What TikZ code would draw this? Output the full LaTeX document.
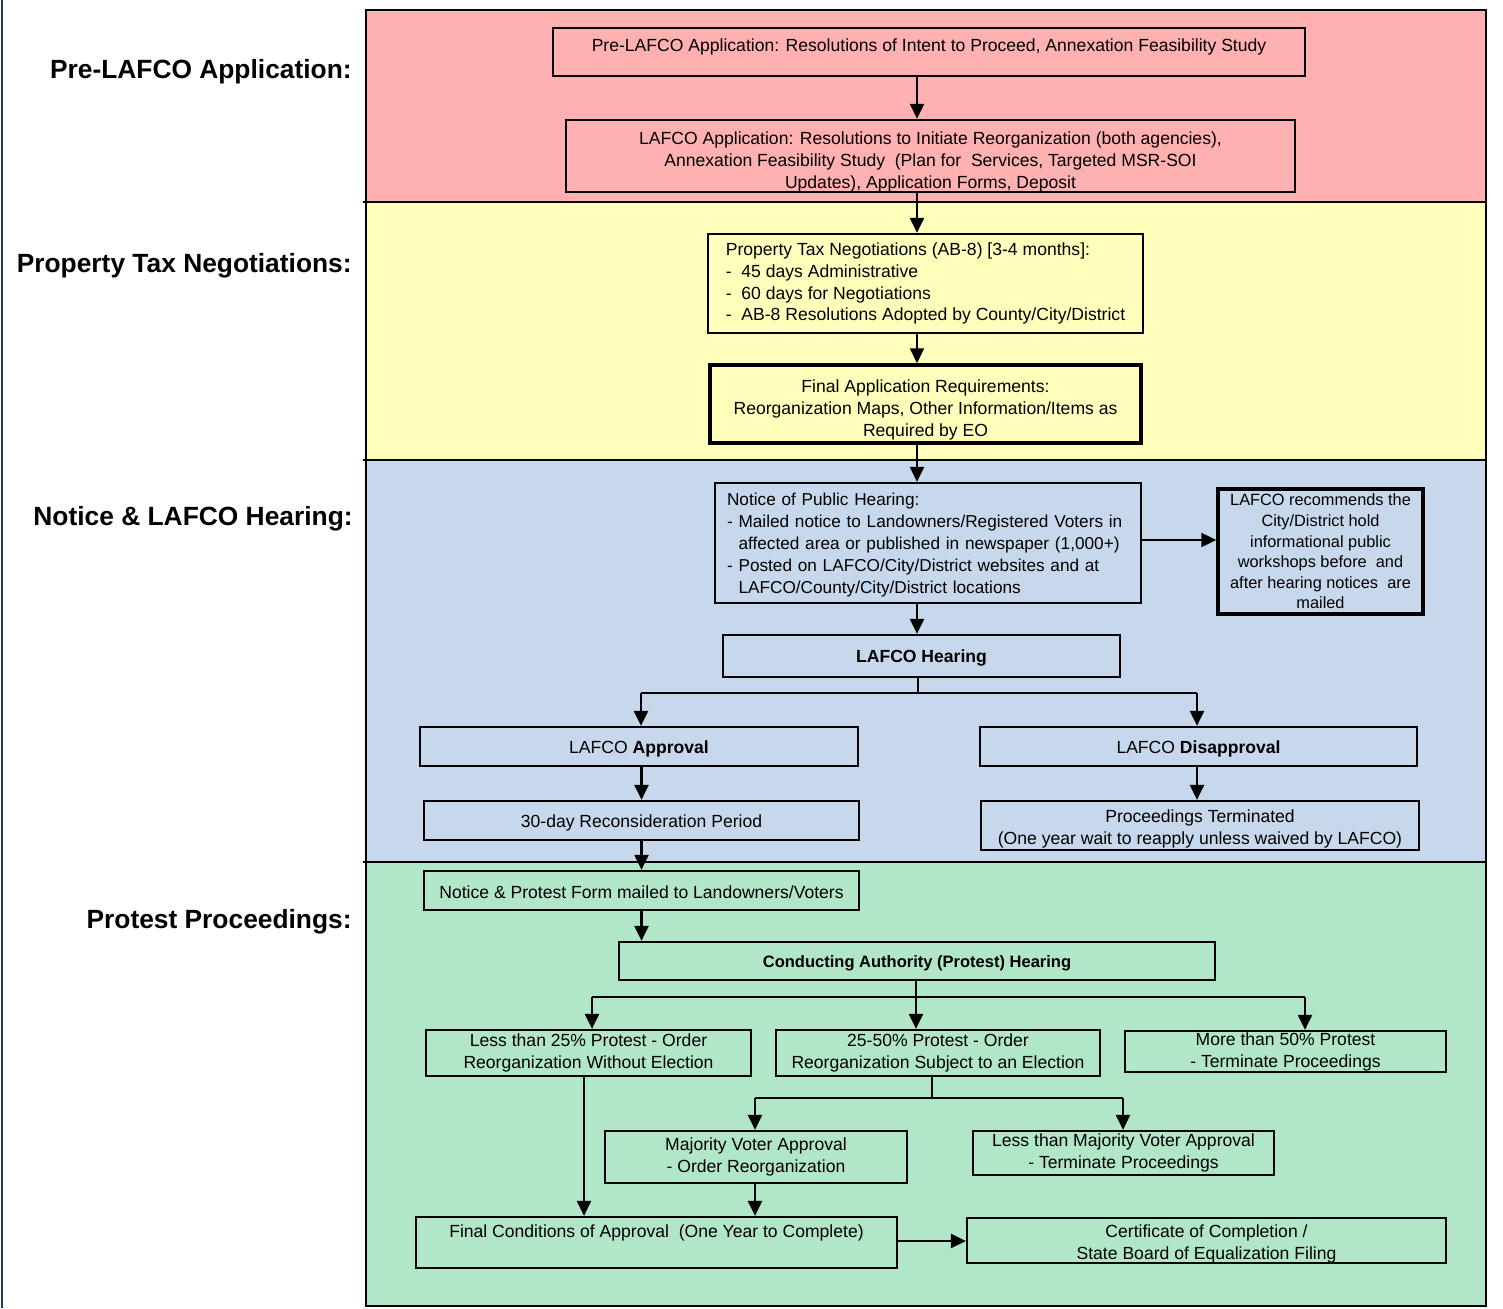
\documentclass[tikz,border=0pt]{standalone}
\usepackage{fontspec}
\setmainfont{Liberation Sans}
\usetikzlibrary{arrows.meta}
\definecolor{pinkband}{RGB}{255,176,176}
\definecolor{yellowband}{RGB}{255,255,187}
\definecolor{blueband}{RGB}{199,216,236}
\definecolor{greenband}{RGB}{177,230,200}
\definecolor{navyline}{RGB}{31,56,100}
\newcommand{\lead}[1][14pt]{\rule{0pt}{#1}}
\begin{document}
\begin{tikzpicture}[
        x=0.02cm, y=-0.02cm,
        every node/.style={font=\fontsize{10}{12.5}\selectfont, inner sep=0pt},
        stepbox/.style={draw, line width=1.3pt, align=center, execute at begin node={\rule{0pt}{9.5pt}}},
        heavybox/.style={stepbox, line width=2pt},
        listbox/.style={stepbox, align=left},
        phase/.style={anchor=east, font=\fontsize{15}{17}\selectfont\bfseries},
        arr/.style={line width=1.3pt, -{Triangle[length=0.3cm,width=0.28cm]}},
        link/.style={line width=1.3pt},
        frame/.style={line width=1.3pt},
    ]
    \useasboundingbox (0,0) rectangle (1503,1308);
    \fill[pinkband] (366,10) rectangle (1486,202);
    \fill[yellowband] (366,202) rectangle (1486,460);
    \fill[blueband] (366,460) rectangle (1486,862);
    \fill[greenband] (366,862) rectangle (1486,1306);
    \draw[frame] (366,10) rectangle (1486,1306);
    \draw[frame] (363,202) -- (1486,202);
    \draw[frame] (363,460) -- (1486,460);
    \draw[frame] (363,862) -- (1486,862);
    \draw[navyline, line width=1.2pt] (2,0) -- (2,1308);

    \node[phase] (phasepre) at (352,72) {Pre-LAFCO Application:};
    \node[phase] (phasetax) at (352,266) {Property Tax Negotiations:};
    \node[phase] (phasehear) at (353,519) {Notice \& LAFCO Hearing:};
    \node[phase] (phaseprot) at (352,922) {Protest Proceedings:};

    \node[stepbox, minimum width=15.04cm, minimum height=0.96cm] (pre) at (929,52)
        {\lead[12pt]Pre-LAFCO Application: Resolutions of Intent to Proceed, Annexation Feasibility Study\\~};
    \node[stepbox, minimum width=14.58cm, minimum height=1.44cm] (lafcoapp) at (930.5,156)
        {\lead LAFCO Application: Resolutions to Initiate Reorganization (both agencies),\\
         Annexation Feasibility Study~~(Plan for~~Services, Targeted MSR-SOI\\
         Updates), Application Forms, Deposit};
    \node[listbox, minimum width=8.7cm, minimum height=1.98cm] (taxneg) at (925.5,283.5)
        {Property Tax Negotiations (AB-8) [3-4 months]:\\
         -~~45 days Administrative\\
         -~~60 days for Negotiations\\
         -~~AB-8 Resolutions Adopted by County/City/District};
    \node[heavybox, minimum width=8.62cm, minimum height=1.56cm] (finalreq) at (925.5,404)
        {\lead Final Application Requirements:\\
         Reorganization Maps, Other Information/Items as\\
         Required by EO};
    \node[listbox, text width=8.04cm, minimum width=8.52cm, minimum height=2.4cm, font=\fontsize{9.8}{12.5}\selectfont] (notice) at (928,543)
        {Notice of Public Hearing:\\
         - Mailed notice to Landowners/Registered Voters in\\
         \phantom{- }affected area or published in newspaper (1,000+)\\
         - Posted on LAFCO/City/District websites and at\\
         \phantom{- }LAFCO/County/City/District locations};
    \node[heavybox, minimum width=4.1cm, minimum height=2.5cm, font=\fontsize{9.3}{11.7}\selectfont,
          execute at begin node={}] (workshop) at (1320.5,551.5)
        {LAFCO recommends the\\
         City/District hold\\
         informational public\\
         workshops before~ and\\
         after hearing notices~ are\\
         mailed};
    \node[stepbox, minimum width=7.94cm, minimum height=0.84cm] (hearing) at (921.5,656)
        {\textbf{LAFCO Hearing}};
    \node[stepbox, minimum width=8.76cm, minimum height=0.78cm] (approval) at (639,746.5)
        {LAFCO \textbf{Approval}};
    \node[stepbox, minimum width=8.74cm, minimum height=0.78cm] (disapproval) at (1198.5,746.5)
        {LAFCO \textbf{Disapproval}};
    \node[stepbox, minimum width=8.7cm, minimum height=0.78cm] (recon) at (641.5,820.5)
        {30-day Reconsideration Period};
    \node[stepbox, minimum width=8.76cm, minimum height=0.98cm] (terminated) at (1200,825.5)
        {\lead[11.7pt]Proceedings Terminated\\
         (One year wait to reapply unless waived by LAFCO)};
    \node[stepbox, minimum width=8.7cm, minimum height=0.78cm] (protestform) at (641.5,890.5)
        {Notice \& Protest Form mailed to Landowners/Voters};
    \node[stepbox, minimum width=11.92cm, minimum height=0.76cm, font=\fontsize{9.4}{12.5}\selectfont] (conducting) at (917,961)
        {\textbf{Conducting Authority (Protest) Hearing}};
    \node[stepbox, minimum width=6.5cm, minimum height=0.92cm] (less25) at (588.5,1053)
        {Less than 25\% Protest - Order\\
         Reorganization Without Election};
    \node[stepbox, minimum width=6.48cm, minimum height=0.92cm] (midprot) at (938,1053)
        {25-50\% Protest - Order\\
         Reorganization Subject to an Election};
    \node[stepbox, minimum width=6.42cm, minimum height=0.82cm] (more50) at (1285.5,1051.5)
        {More than 50\% Protest\\
         - Terminate Proceedings};
    \node[stepbox, minimum width=6.04cm, minimum height=1.04cm] (majority) at (756,1157)
        {Majority Voter Approval\\
         - Order Reorganization};
    \node[stepbox, minimum width=6.02cm, minimum height=0.88cm] (lessmaj) at (1123.5,1153)
        {Less than Majority Voter Approval\\
         - Terminate Proceedings};
    \node[stepbox, minimum width=9.62cm, minimum height=1.02cm] (finalcond) at (656.5,1242.5)
        {Final Conditions of Approval~~(One Year to Complete)\\~};
    \node[stepbox, minimum width=9.58cm, minimum height=0.9cm] (certificate) at (1206.5,1240.5)
        {\lead[11pt]Certificate of Completion /\\
         State Board of Equalization Filing};

    \coordinate (spine) at (917,0);
    \coordinate (fork1l) at (641,693);
    \coordinate (fork1) at (918,693);
    \coordinate (fork1r) at (1197,693);
    \coordinate (fork2l) at (592,997);
    \coordinate (fork2) at (916,997);
    \coordinate (fork2r) at (1305,997);
    \coordinate (fork3l) at (755,1098);
    \coordinate (fork3) at (932,1098);
    \coordinate (fork3r) at (1123,1098);

    \draw[arr] (pre.south -| spine) -- (lafcoapp.north -| spine);
    \draw[arr] (lafcoapp.south -| spine) -- (taxneg.north -| spine);
    \draw[arr] (taxneg.south -| spine) -- (finalreq.north -| spine);
    \draw[arr] (finalreq.south -| spine) -- (notice.north -| spine);
    \draw[arr] (notice.east |- 0,540) -- (workshop.west |- 0,540);
    \draw[arr] (notice.south -| spine) -- (hearing.north -| spine);

    \draw[link] (hearing.south -| fork1) -- (fork1);
    \draw[link] (fork1l) -- (fork1r);
    \draw[arr] (fork1l) -- (approval.north -| fork1l);
    \draw[arr] (fork1r) -- (disapproval.north -| fork1r);
    \draw[arr] (approval.south -| recon) -- (recon);
    \draw[arr] (disapproval.south -| fork1r) -- (terminated.north -| fork1r);
    \draw[arr] (recon) -- (protestform);
    \draw[arr] (protestform.south) -- (protestform.south |- conducting.north);

    \draw[link] (conducting.south -| fork2) -- (fork2);
    \draw[link] (fork2l) -- (fork2r);
    \draw[arr] (fork2l) -- (less25.north -| fork2l);
    \draw[arr] (fork2) -- (midprot.north -| fork2);
    \draw[arr] (fork2r) -- (more50.north -| fork2r);

    \draw[link] (midprot.south -| fork3) -- (fork3);
    \draw[link] (fork3l) -- (fork3r);
    \draw[arr] (fork3l) -- (majority.north -| fork3l);
    \draw[arr] (fork3r) -- (lessmaj.north -| fork3r);

    \draw[arr] (less25.south -| 584,0) -- (finalcond.north -| 584,0);
    \draw[arr] (majority.south -| fork3l) -- (finalcond.north -| fork3l);
    \draw[arr] (finalcond.east |- 0,1241) -- (certificate.west |- 0,1241);
\end{tikzpicture}
\end{document}
